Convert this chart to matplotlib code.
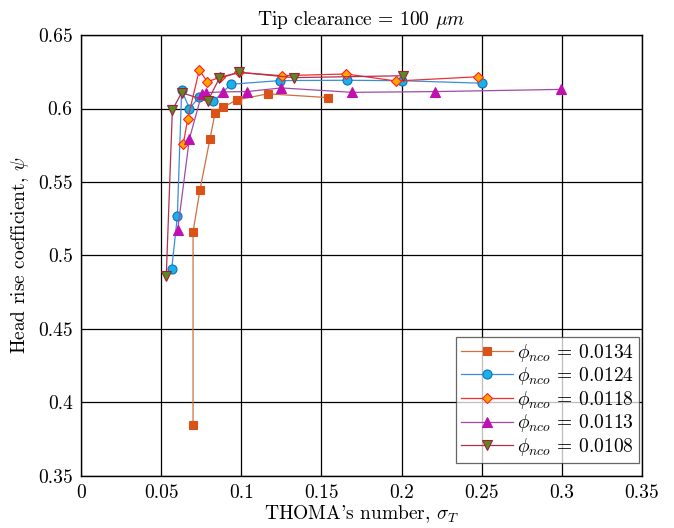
import matplotlib
matplotlib.use("Agg")
import matplotlib.pyplot as plt

plt.rcParams['font.family'] = 'serif'
plt.rcParams['font.serif'] = ['cmr10']
plt.rcParams['mathtext.fontset'] = 'cm'
plt.rcParams['axes.formatter.use_mathtext'] = True
plt.rcParams['axes.unicode_minus'] = False

labels = [r"$\phi_{nco}$ = 0.0134", r"$\phi_{nco}$ = 0.0124", r"$\phi_{nco}$ = 0.0118",
          r"$\phi_{nco}$ = 0.0113", r"$\phi_{nco}$ = 0.0108"]

x1 = [0.0699, 0.0699, 0.0742, 0.0805, 0.0836, 0.0888, 0.0971, 0.1165, 0.1543]
y1 = [0.385, 0.516, 0.5446, 0.5795, 0.597, 0.601, 0.6058, 0.610, 0.6074]

x2 = [0.0566, 0.0601, 0.0628, 0.0676, 0.0736, 0.0826, 0.0936, 0.1242, 0.1658, 0.2005, 0.2504]
y2 = [0.491, 0.5267, 0.6126, 0.600, 0.6076, 0.6049, 0.6165, 0.619, 0.6192, 0.6189, 0.6172]

x3 = [0.0638, 0.0666, 0.0738, 0.0788, 0.0867, 0.0986, 0.1252, 0.1653, 0.1965, 0.2479]
y3 = [0.576, 0.593, 0.6262, 0.6182, 0.6212, 0.6246, 0.6223, 0.6235, 0.6187, 0.6216]

x4 = [0.0603, 0.0676, 0.0753, 0.078, 0.0884, 0.1034, 0.1248, 0.1693, 0.2207, 0.2994]
y4 = [0.5174, 0.5793, 0.6097, 0.6108, 0.6113, 0.6115, 0.614, 0.611, 0.6115, 0.613]

x5 = [0.0532, 0.057, 0.0628, 0.079, 0.0863, 0.0986, 0.1329, 0.2011]
y5 = [0.4863, 0.599, 0.6108, 0.6049, 0.6206, 0.6246, 0.621, 0.6223]

xs = [x1, x2, x3, x4, x5]
ys = [y1, y2, y3, y4, y5]
line_colors = ['#cc7040', '#3a8ed8', '#f03030', '#a04aa8', '#b03050']
face_colors = ['#d95319', '#1ab0e8', '#ffa500', '#c010b0', '#5a8a1e']
edge_colors = ['#d95319', '#1070c0', '#ff2020', '#c010b0', '#a0203a']
markers = ['s', 'o', 'D', '^', 'v']
msizes = [5.5, 6.5, 5.5, 7, 7]

fig = plt.figure(figsize=(6.74, 5.28), dpi=100)
ax = fig.add_axes([0.1202, 0.0985, 0.8323, 0.8352])

for x, y, lc, fc, ec, m, ms, lab in zip(xs, ys, line_colors, face_colors, edge_colors, markers, msizes, labels):
    ax.plot(x, y, color=lc, lw=0.9, marker=m, ms=ms, mfc=fc, mec=ec, mew=0.8, label=lab, zorder=3)

ax.set_xlim(0, 0.35)
ax.set_ylim(0.35, 0.65)
ax.set_xticks([0, 0.05, 0.1, 0.15, 0.2, 0.25, 0.3, 0.35])
ax.set_xticklabels(['0', '0.05', '0.1', '0.15', '0.2', '0.25', '0.3', '0.35'])
ax.set_yticks([0.35, 0.4, 0.45, 0.5, 0.55, 0.6, 0.65])
ax.set_yticklabels(['0.35', '0.4', '0.45', '0.5', '0.55', '0.6', '0.65'])
ax.grid(True, color='black', lw=0.9, zorder=1)
ax.set_axisbelow(True)
ax.tick_params(axis='both', which='both', length=0, labelsize=14, pad=6)
for s in ax.spines.values():
    s.set_color('black')
    s.set_linewidth(1.0)

ax.set_title(r"Tip clearance = 100 $\mu m$", fontsize=14, pad=7)
ax.set_xlabel(r"THOMA's number, $\sigma_T$", fontsize=14, labelpad=1)
ax.set_ylabel(r"Head rise coefficient, $\psi$", fontsize=14, labelpad=5)

leg = ax.legend(loc='lower right', bbox_to_anchor=(0.995, 0.03), fontsize=14,
                fancybox=False, framealpha=0.75, edgecolor='#333333',
                handlelength=2.7, handletextpad=0.2, borderpad=0.25, labelspacing=0.08,
                borderaxespad=0.0)
leg.get_frame().set_linewidth(0.9)

fig.savefig('out.png', dpi=100)
